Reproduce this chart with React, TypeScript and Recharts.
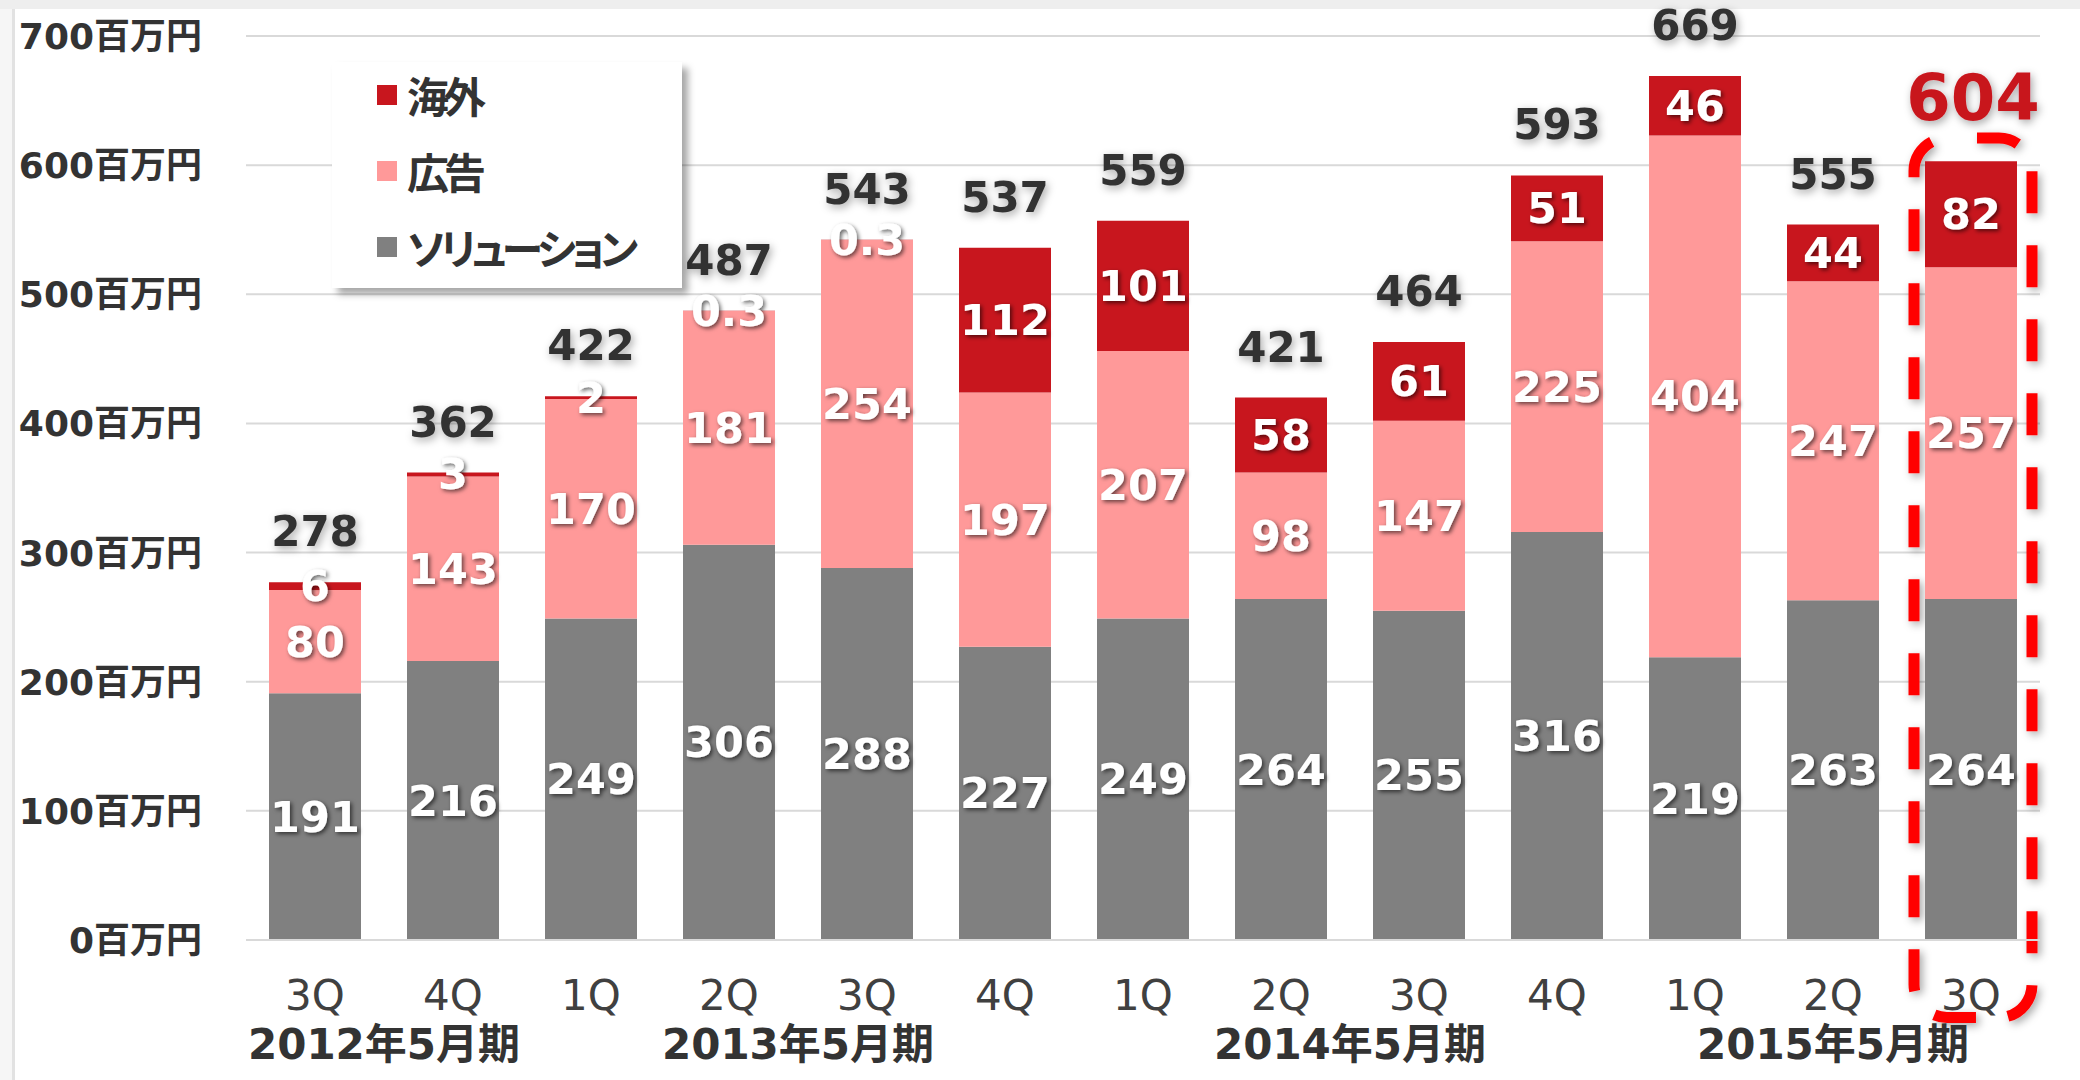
import React from 'react';
import { BarChart, Bar, XAxis, YAxis, CartesianGrid, LabelList, Legend, ReferenceArea } from 'recharts';

const quarters = ['3Q', '4Q', '1Q', '2Q', '3Q', '4Q', '1Q', '2Q', '3Q', '4Q', '1Q', '2Q', '3Q'];
const solution = [191, 216, 249, 306, 288, 227, 249, 264, 255, 316, 219, 263, 264];
const advertising = [80, 143, 170, 181, 254, 197, 207, 98, 147, 225, 404, 247, 257];
const overseas = [6, 3, 2, 0.3, 0.3, 112, 101, 58, 61, 51, 46, 44, 82];
const totals = [278, 362, 422, 487, 543, 537, 559, 421, 464, 593, 669, 555, 604];

const fiscalYears = ['2012年5月期', '2013年5月期', '2014年5月期', '2015年5月期'];
const fiscalYearQuarters = [2, 4, 4, 3];
const yTicks = [0, 100, 200, 300, 400, 500, 600, 700];

const seriesNames = { solution: 'ソリューション', ad: '広告', overseas: '海外' };
const COLORS = { solution: '#808080', ad: '#FF9999', overseas: '#C8161E' };
const highlightIndex = 12;

const W = 2080;
const H = 1080;
const Y_AXIS_W = 246;
const RIGHT = 40;
const band = (W - Y_AXIS_W - RIGHT) / quarters.length;

const LATIN = '"DejaVu Sans", "Noto Sans CJK JP", sans-serif';
const JP = '"Noto Sans CJK JP", sans-serif';

const data = quarters.map((q, i) => ({
  key: `p${i}`,
  q,
  solution: solution[i],
  ad: advertising[i],
  overseas: overseas[i],
  total: totals[i],
}));

const yearStarts = fiscalYearQuarters.map((_, k) => fiscalYearQuarters.slice(0, k).reduce((a, b) => a + b, 0));

const legendItems = [
  { name: seriesNames.overseas, color: COLORS.overseas },
  { name: seriesNames.ad, color: COLORS.ad },
  { name: seriesNames.solution, color: COLORS.solution },
];

const YTick = (props: any) => {
  const { x, y, payload } = props;
  return (
    <text x={x} y={y + 13} textAnchor="end" fontFamily={LATIN} fontWeight="bold" fontSize={36} fill="#333">
      {`${payload.value}百万円`}
    </text>
  );
};

const XTick = (props: any) => {
  const { x, y, payload } = props;
  const i = Number(String(payload.value).slice(1));
  const k = yearStarts.indexOf(i);
  return (
    <g>
      <text x={x} y={y + 70} textAnchor="middle" fontFamily={LATIN} fontSize={42} fill="#404040">
        {quarters[i]}
      </text>
      {k >= 0 && (
        <text
          x={x + ((fiscalYearQuarters[k] - 1) * band) / 2}
          y={y + 119}
          textAnchor="middle"
          fontFamily={LATIN}
          fontWeight="bold"
          fontSize={42}
          fill="#333"
        >
          {fiscalYears[k]}
        </text>
      )}
    </g>
  );
};

const segmentLabel = (props: any) => {
  const { x, y, width, height, value } = props;
  return (
    <text
      x={x + width / 2}
      y={y + height / 2 + 15}
      textAnchor="middle"
      fontFamily={LATIN}
      fontWeight="bold"
      fontSize={43}
      fill="#fff"
      filter="url(#whiteShadow)"
    >
      {value}
    </text>
  );
};

const totalLabel = (props: any) => {
  const { x, y, width, value, index } = props;
  if (index === highlightIndex) {
    return (
      <text
        x={x + width / 2 + 2}
        y={y - 64 + 23}
        textAnchor="middle"
        fontFamily={LATIN}
        fontWeight="bold"
        fontSize={64}
        fill={COLORS.overseas}
        filter="url(#darkGlow)"
      >
        {value}
      </text>
    );
  }
  return (
    <text
      x={x + width / 2}
      y={y - 51 + 15}
      textAnchor="middle"
      fontFamily={LATIN}
      fontWeight="bold"
      fontSize={42}
      fill="#333"
      filter="url(#darkGlow)"
    >
      {value}
    </text>
  );
};

const highlightBox = (props: any) => {
  const { x, y, width, height } = props;
  return (
    <rect
      x={x + 12}
      y={y}
      width={width - 20}
      height={height}
      rx={33}
      ry={33}
      fill="none"
      stroke="#FF0000"
      strokeWidth={11}
      strokeDasharray="42 32"
      strokeDashoffset={44}
      filter="url(#boxShadow)"
    />
  );
};

const renderLegend = () => (
  <div
    style={{
      position: 'relative',
      width: 350,
      height: 226,
      background: '#fff',
      boxShadow: '6px 6px 7px rgba(0,0,0,0.35)',
    }}
  >
    {legendItems.map((item, i) => (
      <div
        key={item.name}
        style={{
          position: 'absolute',
          left: 45,
          top: 33 + i * 76 - 25,
          height: 50,
          display: 'flex',
          alignItems: 'center',
        }}
      >
        <div style={{ width: 20, height: 20, background: item.color, marginRight: 10 }} />
        <span
          style={{
            fontFamily: JP,
            fontWeight: 700,
            fontSize: 42,
            color: '#333',
            fontFeatureSettings: '"palt"',
            letterSpacing: -5,
            lineHeight: '50px',
          }}
        >
          {item.name}
        </span>
      </div>
    ))}
  </div>
);

export default function App() {
  return (
    <div style={{ position: 'absolute', left: 0, top: 0, width: W, height: H, background: '#fff', overflow: 'hidden' }}>
      <div style={{ position: 'absolute', left: 0, top: 0, width: W, height: 9, background: '#eeeeee' }} />
      <div style={{ position: 'absolute', left: 0, top: 9, width: 12, height: H - 9, background: '#f6f6f6' }} />
      <div style={{ position: 'absolute', left: 12, top: 9, width: 3, height: H - 9, background: '#e2e2e2' }} />
      <div style={{ position: 'absolute', left: 0, top: 0 }}>
        <BarChart width={W} height={H} data={data} margin={{ top: 36, right: RIGHT, left: 0, bottom: 10 }}>
          <defs>
            <filter id="whiteShadow" x="-30%" y="-30%" width="160%" height="160%">
              <feDropShadow dx="2" dy="2" stdDeviation="2" floodColor="#000" floodOpacity="0.6" />
            </filter>
            <filter id="darkGlow" x="-30%" y="-30%" width="160%" height="160%">
              <feDropShadow dx="2" dy="3" stdDeviation="4" floodColor="#000" floodOpacity="0.35" />
            </filter>
            <filter id="boxShadow" x="-30%" y="-10%" width="160%" height="120%">
              <feDropShadow dx="3" dy="3" stdDeviation="4" floodColor="#000" floodOpacity="0.35" />
            </filter>
          </defs>
          <CartesianGrid vertical={false} stroke="#D9D9D9" strokeWidth={2} />
          <XAxis
            dataKey="key"
            interval={0}
            height={130}
            tickLine={false}
            tickSize={0}
            tickMargin={0}
            axisLine={{ stroke: '#D9D9D9', strokeWidth: 2 }}
            tick={<XTick />}
          />
          <YAxis
            width={Y_AXIS_W}
            domain={[0, 700]}
            ticks={yTicks}
            axisLine={false}
            tickLine={false}
            tickSize={0}
            tickMargin={44}
            tick={<YTick />}
          />
          <Legend
            layout="vertical"
            align="center"
            verticalAlign="middle"
            content={renderLegend}
            wrapperStyle={{ left: 332, top: 62, width: 350, height: 226 }}
          />
          <Bar dataKey="solution" stackId="s" name={seriesNames.solution} fill={COLORS.solution} barSize={92} isAnimationActive={false}>
            <LabelList dataKey="solution" content={segmentLabel} />
          </Bar>
          <Bar dataKey="ad" stackId="s" name={seriesNames.ad} fill={COLORS.ad} barSize={92} isAnimationActive={false}>
            <LabelList dataKey="ad" content={segmentLabel} />
          </Bar>
          <Bar dataKey="overseas" stackId="s" name={seriesNames.overseas} fill={COLORS.overseas} barSize={92} isAnimationActive={false}>
            <LabelList dataKey="overseas" content={segmentLabel} />
            <LabelList dataKey="total" content={totalLabel} />
          </Bar>
          <ReferenceArea
            x1={data[highlightIndex].key}
            x2={data[highlightIndex].key}
            y1={-60}
            y2={621}
            ifOverflow="visible"
            shape={highlightBox}
          />
        </BarChart>
      </div>
    </div>
  );
}
